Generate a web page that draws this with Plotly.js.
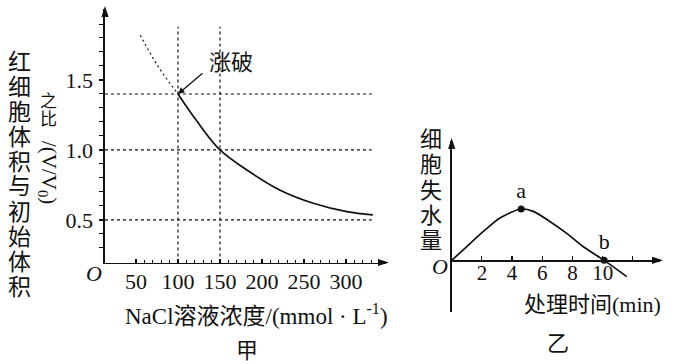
<!DOCTYPE html>
<html>
<head>
<meta charset="utf-8">
<script src="https://cdn.plot.ly/plotly-3.0.1.min.js"></script>
<style>html,body{margin:0;padding:0;background:#fff;}#chart{width:673px;height:364px;}</style>
</head>
<body>
<div id="chart"></div>
<script>
// ---------- 甲: data ----------
const naclConc = [100, 122, 150, 182, 221, 261, 301, 332];          // mmol/L
const volRatio = [1.40, 1.21, 1.00, 0.857, 0.714, 0.619, 0.559, 0.536];
const extrapConc = [55, 76.5, 100];
const extrapRatio = [1.82, 1.595, 1.40];
const refRatios = [1.4, 1.0, 0.5];       // horizontal dashed guides
const refConcs = [100, 150];             // vertical dashed guides
const burstPoint = [100, 1.4];
const xTickVals1 = [50, 100, 150, 200, 250, 300];
const xTickText1 = ["50", "100", "150", "200", "250", "300"];
const yTickVals1 = [0.5, 1.0, 1.5];
const yTickText1 = ["0.5", "1.0", "1.5"];

// ---------- 乙: data ----------
const timeMin = [0, 1.0, 2.1, 3.2, 4.6, 5.4, 6.5, 7.6, 8.7, 10.1, 11.6];
const waterLoss = [0, 1.38, 2.88, 4.22, 5.12, 4.88, 3.88, 2.72, 1.38, 0, -1.62];
const pointLabels = ["a", "b"];
const pointX = [4.6, 10.1];
const pointY = [5.12, 0];
const xTickVals2 = [2, 4, 6, 8, 10, 12];
const xTickText2 = ["2", "4", "6", "8", "10", ""];

// ---------- layout constants ----------
const W = 673, H = 364;
const X1 = [13.1, 347.6], Y1 = [0.196, 2.01];
const X2 = [0, 13.8], Y2 = [-5.15, 11.9];
const guideEndX = 330.6, guideTopY = 1.88;
const serif = "Liberation Serif, Times New Roman, serif";
const cjk = "Liberation Serif, Noto Sans CJK SC, sans-serif";

const hx = [], hy = [];
refRatios.forEach(r => { hx.push(X1[0], guideEndX, null); hy.push(r, r, null); });
const vx = [], vy = [];
refConcs.forEach(c => { vx.push(c, c, null); vy.push(Y1[0], guideTopY, null); });

function range(a, b, s) { const out = []; for (let v = a; v <= b + 1e-9; v += s) out.push(+v.toFixed(4)); return out; }

const traces = [
  {x: hx, y: hy, xaxis: 'x', yaxis: 'y', mode: 'lines', line: {color: '#111', width: 1.2, dash: '3px,3px'}, hoverinfo: 'skip'},
  {x: vx, y: vy, xaxis: 'x', yaxis: 'y', mode: 'lines', line: {color: '#111', width: 1.2, dash: '3px,3px'}, hoverinfo: 'skip'},
  {x: extrapConc, y: extrapRatio, xaxis: 'x', yaxis: 'y', mode: 'lines', line: {color: '#111', width: 1.2, dash: '2px,3px', shape: 'spline'}},
  {x: naclConc, y: volRatio, xaxis: 'x', yaxis: 'y', mode: 'lines', line: {color: '#111', width: 1.7, shape: 'spline', smoothing: 1}},
  {x: timeMin, y: waterLoss, xaxis: 'x2', yaxis: 'y2', mode: 'lines', line: {color: '#111', width: 1.7, shape: 'spline', smoothing: 0.8}},
  {x: pointX, y: pointY, xaxis: 'x2', yaxis: 'y2', mode: 'markers+text', text: pointLabels, textposition: 'top center',
   textfont: {family: serif, size: 22, color: '#111'}, marker: {color: '#111', size: 7}, cliponaxis: false}
];

function P(x, y) { return {x: x / W, y: 1 - y / H}; }
function txt(text, x, y, size, opts) {
  const p = P(x, y);
  return Object.assign({xref: 'paper', yref: 'paper', x: p.x, y: p.y, xanchor: 'center', yanchor: 'middle',
    text: text, showarrow: false, font: {family: cjk, size: size, color: '#111'}}, opts || {});
}
const annotations = [];
// vertical title 甲
const t1 = "红细胞体积与初始体积";
[...t1].forEach((ch, i) => annotations.push(txt(ch, 19, 62 + i * 25, 23)));
["之", "比"].forEach((ch, i) => annotations.push(txt(ch, 48, 101 + i * 18.5, 17)));
annotations.push(txt("/(V/V<sub>0</sub>)", 48, 172, 21, {textangle: 90, font: {family: serif, size: 21, color: '#111'}}));
annotations.push(txt("NaCl溶液浓度/(mmol · L<sup>-1</sup>)", 256, 314, 23));
annotations.push(txt("甲", 247, 350, 22));
annotations.push(txt("<i>O</i>", 93.5, 273.5, 22, {font: {family: serif, size: 22, color: '#111'}}));
annotations.push(txt("涨破", 230.5, 62, 22));
// vertical title 乙
[..."细胞失水量"].forEach((ch, i) => annotations.push(txt(ch, 431, 139.6 + i * 25.2, 22)));
annotations.push(txt("处理时间(min)", 592.5, 304, 22));
annotations.push(txt("乙", 558, 343, 22));
annotations.push(txt("<i>O</i>", 440, 266, 22, {font: {family: serif, size: 22, color: '#111'}}));
annotations.push({text: '', showarrow: true, arrowhead: 2, arrowsize: 1, arrowwidth: 1.3, arrowcolor: '#111', standoff: 0,
  xref: 'x', yref: 'y', x: burstPoint[0], y: burstPoint[1], ax: 26, ay: -22});

const yDom2 = [1 - 312 / H, 1 - 141 / H];
const zeroPos = yDom2[0] + (0 - Y2[0]) / (Y2[1] - Y2[0]) * (yDom2[1] - yDom2[0]);
const zeroPx = H * (1 - zeroPos);

// axis arrowheads as filled paper-space triangles
function arrowShape(tx, ty, dir) {
  const L = 11, hw = 3.6;
  let pts;
  if (dir === 'up') pts = [[tx, ty], [tx - hw, ty + L], [tx + hw, ty + L]];
  else pts = [[tx, ty], [tx - L, ty - hw], [tx - L, ty + hw]];
  const path = 'M' + pts.map(p => (p[0] / W).toFixed(5) + ',' + (1 - p[1] / H).toFixed(5)).join(' L') + ' Z';
  return {type: 'path', xref: 'paper', yref: 'paper', path: path, fillcolor: '#111', line: {width: 0}, layer: 'above'};
}
const shapes = [
  arrowShape(105, 6, 'up'),
  arrowShape(389, 262.5, 'right'),
  arrowShape(451.7, 138, 'up'),
  arrowShape(663, zeroPx, 'right')
];

const layout = {
  width: W, height: H, margin: {l: 0, r: 0, t: 0, b: 0}, showlegend: false,
  paper_bgcolor: '#fff', plot_bgcolor: 'rgba(0,0,0,0)',
  xaxis: {domain: [105 / W, 386 / W], range: X1, anchor: 'y', showgrid: false, zeroline: false,
    showline: true, linecolor: '#111', linewidth: 1.6, ticks: 'inside', ticklen: 4, tickwidth: 1.2, tickcolor: '#111',
    tickmode: 'array', tickvals: xTickVals1, ticktext: xTickText1, ticklabelstandoff: -2,
    tickfont: {family: serif, size: 22, color: '#111'},
    minor: {tickmode: 'array', tickvals: range(50, 330, 10), ticks: 'inside', ticklen: 3, tickwidth: 1, tickcolor: '#111', showgrid: false}},
  yaxis: {domain: [1 - 262.5 / H, 1 - 8.6 / H], range: Y1, anchor: 'x', showgrid: false, zeroline: false,
    showline: true, linecolor: '#111', linewidth: 1.6, ticks: 'outside', ticklen: 4, tickwidth: 1.2, tickcolor: '#111',
    tickmode: 'array', tickvals: yTickVals1, ticktext: yTickText1, ticklabelstandoff: 2,
    tickfont: {family: serif, size: 22, color: '#111'},
    minor: {tickmode: 'array', tickvals: range(0.3, 1.9, 0.1), ticks: 'outside', ticklen: 4, tickwidth: 1, tickcolor: '#111', showgrid: false}},
  xaxis2: {domain: [451.7 / W, 660 / W], range: X2, anchor: 'free', position: zeroPos, showgrid: false, zeroline: false,
    showline: true, linecolor: '#111', linewidth: 1.6, ticks: 'inside', ticklen: 4, tickwidth: 1.2, tickcolor: '#111',
    tickmode: 'array', tickvals: xTickVals2, ticktext: xTickText2, ticklabelstandoff: -7,
    tickfont: {family: serif, size: 21, color: '#111'}},
  yaxis2: {domain: yDom2, range: Y2, anchor: 'x2', showgrid: false, zeroline: false,
    showline: true, linecolor: '#111', linewidth: 1.6, ticks: '', showticklabels: false},
  shapes: shapes,
  annotations: annotations
};
Plotly.newPlot('chart', traces, layout, {staticPlot: true, displayModeBar: false});
</script>
</body>
</html>
